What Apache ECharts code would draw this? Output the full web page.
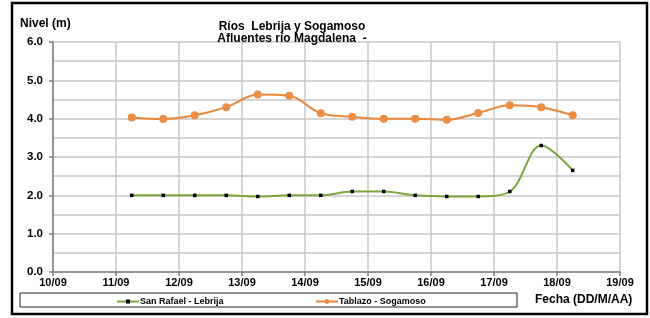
<!DOCTYPE html>
<html>
<head>
<meta charset="utf-8">
<script src="https://cdn.jsdelivr.net/npm/echarts@6/dist/echarts.min.js"></script>
<style>
  html, body { margin: 0; padding: 0; background: #fff; }
  #chart { width: 650px; height: 318px; }
</style>
</head>
<body>
<div id="chart"></div>
<script>
  // fechas de lectura (DD/MM HH:MM), dos lecturas por dia
  var fechas = ['11/09 06:00', '11/09 18:00', '12/09 06:00', '12/09 18:00', '13/09 06:00',
    '13/09 18:00', '14/09 06:00', '14/09 18:00', '15/09 06:00', '15/09 18:00',
    '16/09 06:00', '16/09 18:00', '17/09 06:00', '17/09 18:00', '18/09 06:00'];
  var sanRafael = [2.0, 2.0, 2.0, 2.0, 1.97, 2.0, 2.0, 2.1, 2.1, 2.0, 1.97, 1.97, 2.1, 3.3, 2.65];
  var tablazo = [4.03, 3.99, 4.09, 4.3, 4.63, 4.6, 4.14, 4.05, 4.0, 4.0, 3.97, 4.15, 4.35, 4.3, 4.09];
  var diasEje = ['10/09', '11/09', '12/09', '13/09', '14/09', '15/09', '16/09', '17/09', '18/09', '19/09'];

  var FONT = 'Liberation Sans, Arial, sans-serif';

  // dias transcurridos desde el 10/09 00:00
  function aDias(f) {
    var d = parseInt(f.substr(0, 2), 10);
    var h = parseInt(f.substr(6, 2), 10);
    var m = parseInt(f.substr(9, 2), 10);
    return (d - 10) + (h + m / 60) / 24;
  }

  function serie(valores) {
    return valores.map(function (v, i) { return [aDias(fechas[i]), v]; });
  }

  var myChart = echarts.init(document.getElementById('chart'));

  var leyendaTexto = { fontSize: 9, fontWeight: 'bold', color: '#000', fontFamily: FONT, padding: [0, 0, 0, -4] };

  var option = {
    animation: false,
    textStyle: { fontFamily: FONT },
    title: {
      text: 'Ríos  Lebrija y Sogamoso\nAfluentes río Magdalena  -',
      left: 287,
      top: 16,
      textAlign: 'center',
      textStyle: { fontSize: 12, fontWeight: 'bold', color: '#000', lineHeight: 12, fontFamily: FONT }
    },
    grid: { left: 53, right: 30, top: 42, bottom: 46 },
    legend: [
      {
        data: ['San Rafael - Lebrija'],
        left: 111, top: 292,
        itemWidth: 22, itemHeight: 5, itemGap: 2,
        textStyle: leyendaTexto
      },
      {
        data: ['Tablazo - Sogamoso'],
        left: 310, top: 292,
        itemWidth: 22, itemHeight: 6, itemGap: 2,
        textStyle: leyendaTexto
      }
    ],
    xAxis: {
      type: 'value',
      min: 0, max: 9, interval: 1,
      axisLine: { show: true, lineStyle: { color: '#7f7f7f', width: 1.5 } },
      axisTick: { show: true, length: 4, lineStyle: { color: '#7f7f7f', width: 1.5 } },
      axisLabel: {
        fontSize: 11, fontWeight: 'bold', color: '#000', margin: 5,
        formatter: function (v) { return diasEje[Math.round(v)]; }
      },
      splitLine: { show: true, lineStyle: { color: '#c8c8c8', width: 1.5 } }
    },
    yAxis: {
      type: 'value',
      min: 0, max: 6, interval: 1,
      axisLine: { show: true, lineStyle: { color: '#7f7f7f', width: 1.5 } },
      axisTick: { show: true, length: 4, lineStyle: { color: '#7f7f7f', width: 1.5 } },
      axisLabel: {
        fontSize: 11.5, fontWeight: 'bold', color: '#000', margin: 10,
        formatter: function (v) { return v.toFixed(1); }
      },
      splitLine: { show: true, lineStyle: { color: '#c8c8c8', width: 1.5 } },
      minorTick: { show: false, splitNumber: 2 },
      minorSplitLine: { show: true, lineStyle: { color: '#c8c8c8', width: 1.5 } }
    },
    series: [
      {
        name: 'San Rafael - Lebrija',
        type: 'line',
        data: serie(sanRafael),
        smooth: 0.35,
        symbol: 'rect',
        symbolSize: 3.5,
        lineStyle: { color: '#7aa53c', width: 2 },
        itemStyle: { color: '#000' },
        z: 3
      },
      {
        name: 'Tablazo - Sogamoso',
        type: 'line',
        data: serie(tablazo),
        smooth: 0.35,
        symbol: 'circle',
        symbolSize: 8,
        lineStyle: { color: '#e8873a', width: 2 },
        itemStyle: { color: '#ea8d45' },
        z: 3
      }
    ],
    graphic: [
      {
        type: 'rect',
        shape: { x: 12, y: 3, width: 635, height: 311 },
        style: { fill: 'none', stroke: '#000', lineWidth: 2.5 },
        silent: true, z: -1
      },
      {
        type: 'rect',
        shape: { x: 20, y: 293, width: 497, height: 14 },
        style: { fill: 'none', stroke: '#222', lineWidth: 1 },
        silent: true, z: -1
      },
      {
        type: 'text',
        left: 20, top: 18,
        style: { text: 'Nivel (m)', fontSize: 12, fontWeight: 'bold', fill: '#000', fontFamily: FONT }
      },
      {
        type: 'text',
        left: 535, top: 294,
        style: { text: 'Fecha (DD/M/AA)', fontSize: 12, fontWeight: 'bold', fill: '#000', fontFamily: FONT }
      }
    ]
  };

  myChart.setOption(option);
</script>
</body>
</html>
